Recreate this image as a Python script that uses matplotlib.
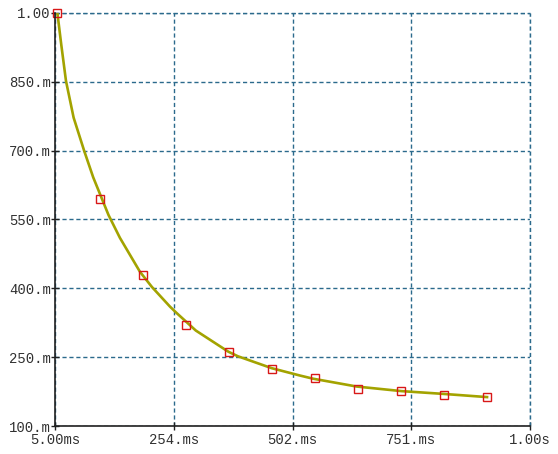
import matplotlib
matplotlib.use("Agg")
import matplotlib.pyplot as plt

# measured samples (time in ms, value in milli-units)
t_meas = [10, 100, 190, 280, 370, 460, 550, 640, 730, 820, 910]
v_meas = [1000, 595, 429, 320, 261, 224, 205, 181, 177, 168, 163]

# fitted curve, sampled
t_fit = [10, 18, 28, 44, 66, 85, 117, 141, 183, 208, 246, 260, 300, 368, 388, 459, 518, 546, 637, 731, 818, 910]
v_fit = [1000, 932, 852, 772, 700, 642, 560, 510, 436, 403, 360, 346, 308, 262, 252, 226, 210, 203, 186, 176, 170, 163]

x_ticks = [5, 253.75, 502.5, 751.25, 1000]
x_labels = ["5.00ms", "254.ms", "502.ms", "751.ms", "1.00s"]
y_ticks = [100, 250, 400, 550, 700, 850, 1000]
y_labels = ["100.m", "250.m", "400.m", "550.m", "700.m", "850.m", "1.00"]

plt.rcParams['font.family'] = ['Liberation Mono', 'DejaVu Sans Mono']

fig = plt.figure(figsize=(5.58, 4.54), dpi=100)
ax = fig.add_axes([55/558, 1-426/454, 475/558, 413/454])

ax.plot(t_fit, v_fit, color='#a3a300', lw=1.9, zorder=3, solid_joinstyle='round')
ax.plot(t_meas, v_meas, 's', ms=6, mfc='none', mec='#d81818', mew=1.0, zorder=4, clip_on=False)

ax.set_xlim(5, 1000)
ax.set_ylim(100, 1000)
ax.set_xticks(x_ticks)
ax.set_xticklabels(x_labels)
ax.set_yticks(y_ticks)
ax.set_yticklabels(y_labels)

grid_col = '#2b6a8c'
ax.grid(True, color=grid_col, lw=1.0, linestyle=(0, (3, 2)))
for s in ['top', 'right']:
    ax.spines[s].set_visible(False)
for s in ['left', 'bottom']:
    ax.spines[s].set_color('#202020')
    ax.spines[s].set_linewidth(1.2)
    ax.spines[s].set_zorder(5)

# dashed border on top/right like the grid
ax.axhline(1000, color=grid_col, lw=1.0, linestyle=(0, (3, 2)), clip_on=False)
ax.axvline(1000, color=grid_col, lw=1.0, linestyle=(0, (3, 2)), clip_on=False)

ax.tick_params(axis='both', direction='inout', length=6, width=1, color='#202020',
               labelsize=10, labelcolor='#303030')
ax.tick_params(axis='y', pad=0)
ax.tick_params(axis='x', pad=2)

fig.savefig('out.png', dpi=100)
